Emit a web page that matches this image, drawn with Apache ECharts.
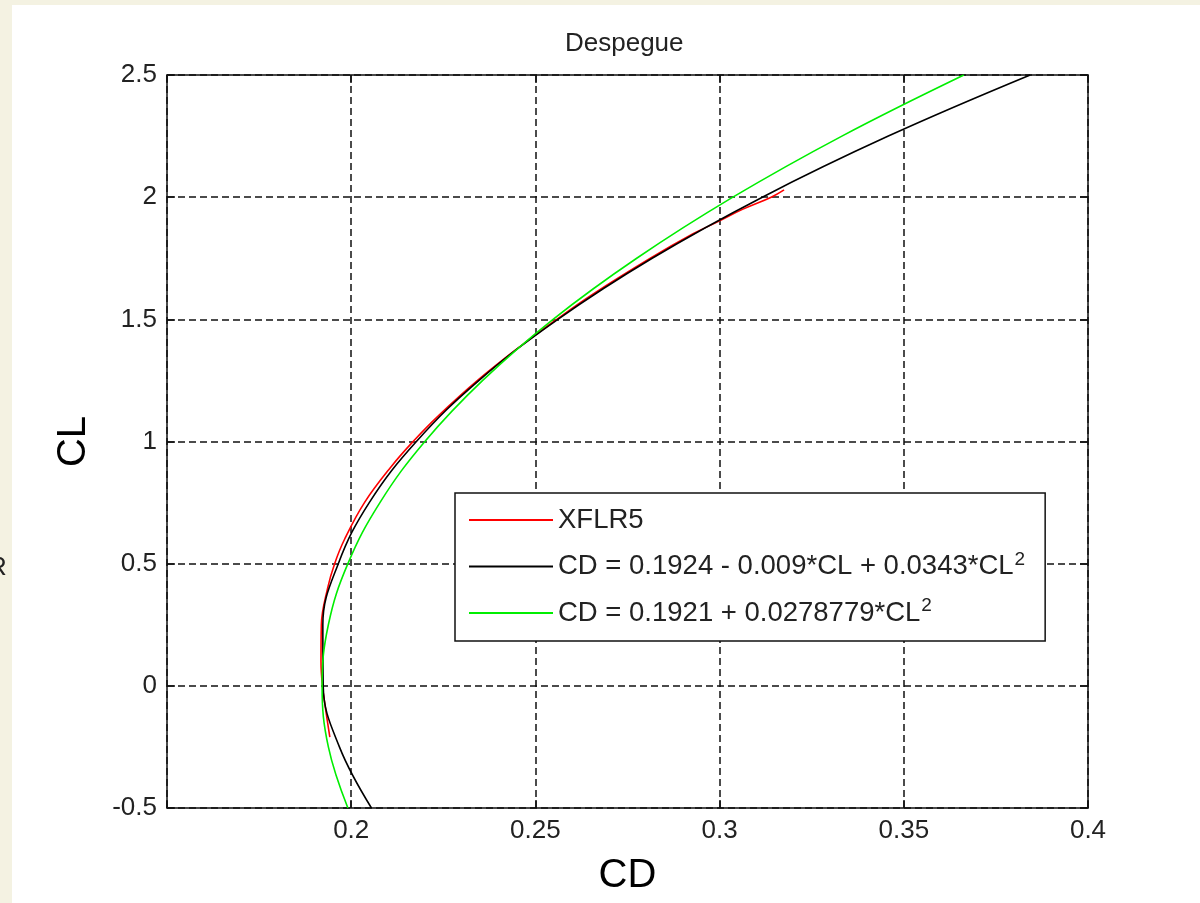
<!DOCTYPE html>
<html>
<head>
<meta charset="utf-8">
<script src="https://cdn.jsdelivr.net/npm/echarts@6/dist/echarts.min.js"></script>
<style>
  html, body { margin: 0; padding: 0; background: #fff; }
  #chart { width: 1200px; height: 903px; }
</style>
</head>
<body>
<div id="chart"></div>
<script>
// series names (legend), "^2" becomes a superscript
const seriesNames = [
    'XFLR5',
    'CD = 0.1924 - 0.009*CL + 0.0343*CL^2',
    'CD = 0.1921 + 0.0278779*CL^2'
];

// XFLR5 polar
const clXflr = [-0.21, -0.1, 0.0, 0.1, 0.25, 0.4, 0.5, 0.6, 0.75, 0.9, 1.0, 1.1, 1.25, 1.4, 1.5, 1.6, 1.75, 1.85, 1.9, 1.95, 2.0, 2.03];
const cdXflr = [0.1942, 0.1931, 0.1922, 0.1918, 0.1919, 0.1936, 0.1955, 0.1982, 0.2036, 0.2110, 0.2168, 0.2233, 0.2343, 0.2468, 0.2558, 0.2653, 0.2812, 0.2928, 0.2996, 0.3062, 0.3140, 0.3175];

// fitted curves
const clFit = [-0.5, -0.25, 0, 0.25, 0.5, 0.75, 1.0, 1.25, 1.5, 1.75, 2.0, 2.25, 2.5];
const cdFitBlack = [0.2055, 0.1968, 0.1924, 0.1923, 0.1965, 0.2049, 0.2177, 0.2347, 0.2561, 0.2817, 0.3116, 0.3458, 0.3843];
const cdFitGreen = [0.1991, 0.1938, 0.1921, 0.1938, 0.1991, 0.2078, 0.2200, 0.2357, 0.2548, 0.2775, 0.3036, 0.3332, 0.3663];

const cdTicks = { min: 0.15, max: 0.4, step: 0.05 };
const clTicks = { min: -0.5, max: 2.5, step: 0.5 };

const font = "'Liberation Sans', Arial, sans-serif";
const pairs = (xs, ys) => xs.map((x, i) => [x, ys[i]]);

const chart = echarts.init(document.getElementById('chart'));

const axisLine = { show: true, onZero: false, lineStyle: { color: '#111', width: 1.5 } };
const axisTick = { show: true, inside: true, length: 8, lineStyle: { color: '#111', width: 1.5 } };
const gridLine = { show: true, lineStyle: { color: '#111', width: 1.5, type: [7, 4] } };

const fmt = v => {
    if (Math.abs(v - cdTicks.min) < 1e-9) return '';
    return String(+v.toFixed(2));
};

const lineSeries = (name, data, color) => ({
    name,
    type: 'line',
    data,
    symbol: 'none',
    smooth: 0.4,
    clip: true,
    lineStyle: { color, width: 1.6 },
    itemStyle: { color },
    emphasis: { disabled: true }
});

chart.setOption({
    animation: false,
    backgroundColor: '#fff',
    title: {
        text: 'Despegue',
        left: 565,
        top: 31,
        padding: 0,
        textStyle: { fontSize: 26, fontWeight: 'normal', color: '#222', fontFamily: font }
    },
    grid: { left: 167, top: 75, width: 921, height: 733, containLabel: false },
    xAxis: [
        {
            type: 'value', min: cdTicks.min, max: cdTicks.max, interval: cdTicks.step, position: 'bottom',
            axisLine, axisTick, splitLine: gridLine,
            axisLabel: { color: '#222', fontSize: 26, fontFamily: font, margin: 10, formatter: fmt },
            name: 'CD', nameLocation: 'middle', nameGap: 48,
            nameTextStyle: { fontSize: 40, color: '#000', fontFamily: font }
        },
        {
            type: 'value', min: cdTicks.min, max: cdTicks.max, interval: cdTicks.step, position: 'top',
            axisLine, axisTick, axisLabel: { show: false }, splitLine: { show: false }
        }
    ],
    yAxis: [
        {
            type: 'value', min: clTicks.min, max: clTicks.max, interval: clTicks.step, position: 'left',
            axisLine, axisTick, splitLine: gridLine,
            axisLabel: { color: '#222', fontSize: 26, fontFamily: font, margin: 10 },
            name: 'CL', nameLocation: 'middle', nameGap: 73, nameRotate: 90,
            nameTextStyle: { fontSize: 40, color: '#000', fontFamily: font }
        },
        {
            type: 'value', min: clTicks.min, max: clTicks.max, interval: clTicks.step, position: 'right',
            axisLine, axisTick, axisLabel: { show: false }, splitLine: { show: false }
        }
    ],
    legend: {
        orient: 'vertical',
        left: 455,
        top: 493,
        padding: [13, 20, 14, 14],
        itemGap: 16,
        itemWidth: 84,
        itemHeight: 2,
        icon: 'rect',
        backgroundColor: '#fff',
        borderColor: '#111',
        borderWidth: 1.5,
        borderRadius: 0,
        selectedMode: false,
        data: seriesNames,
        formatter(name) {
            const parts = name.split('^2');
            return parts.length > 1 ? '{base|' + parts[0] + '}{sup|2}' : '{base|' + name + '}';
        },
        textStyle: {
            color: '#222',
            fontFamily: font,
            rich: {
                base: { fontSize: 27.5, fontFamily: font, color: '#222' },
                sup: { fontSize: 19, fontFamily: font, color: '#222', padding: [0, 0, 14, 1] }
            }
        }
    },
    graphic: [
        { type: 'rect', left: 0, top: 0, shape: { width: 12, height: 903 }, style: { fill: '#f4f2e2' }, silent: true },
        { type: 'rect', left: 0, top: 0, shape: { width: 1200, height: 5 }, style: { fill: '#f4f2e2' }, silent: true },
        { type: 'text', left: -12, top: 555, style: { text: 'R', fontSize: 26, fontFamily: font, fill: '#222' }, silent: true }
    ],
    series: [
        lineSeries(seriesNames[0], pairs(cdXflr, clXflr), '#ff0000'),
        lineSeries(seriesNames[1], pairs(cdFitBlack, clFit), '#000000'),
        lineSeries(seriesNames[2], pairs(cdFitGreen, clFit), '#00ee00')
    ]
});
</script>
</body>
</html>
